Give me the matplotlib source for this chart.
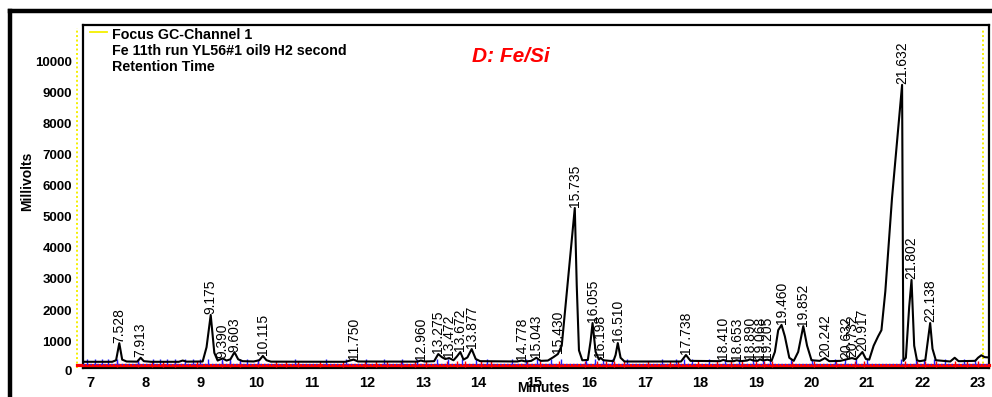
import matplotlib
matplotlib.use("Agg")
import matplotlib.pyplot as plt
from matplotlib.lines import Line2D
from matplotlib import transforms
import numpy as np

OUT_NAME = "out.png"

# detector trace, read as vertices (minutes, millivolts)
TRACE_MIN = [
    6.87, 7.40, 7.47, 7.528, 7.58, 7.66, 7.85, 7.913, 7.97, 8.10, 8.60, 8.67, 8.74,
    9.03, 9.10, 9.175, 9.24, 9.30, 9.39, 9.46, 9.53, 9.603, 9.67, 9.75, 9.95, 10.05,
    10.115, 10.18, 10.26, 11.60, 11.69, 11.75, 11.83, 12.90, 12.96, 13.03, 13.20,
    13.275, 13.34, 13.40, 13.472, 13.55, 13.61, 13.672, 13.73, 13.80, 13.877, 13.95,
    14.03, 14.70, 14.778, 14.85, 14.95, 15.043, 15.12, 15.25, 15.35, 15.43, 15.50,
    15.735, 15.77, 15.81, 15.87, 15.97, 16.02, 16.055, 16.11, 16.17, 16.198, 16.25,
    16.43, 16.47, 16.51, 16.56, 16.63, 17.65, 17.738, 17.82, 18.35, 18.41, 18.48,
    18.60, 18.653, 18.72, 18.84, 18.89, 18.95, 19.03, 19.068, 19.13, 19.205, 19.28,
    19.34, 19.40, 19.46, 19.52, 19.60, 19.68, 19.76, 19.852, 19.92, 20.00, 20.15,
    20.242, 20.32, 20.52, 20.632, 20.70, 20.732, 20.80, 20.917, 20.98, 21.04, 21.12,
    21.20, 21.26, 21.33, 21.45, 21.632, 21.655, 21.70, 21.76, 21.802, 21.85, 21.90,
    21.95, 22.05, 22.10, 22.138, 22.18, 22.24, 22.50, 22.58, 22.65, 22.95, 23.00,
    23.06, 23.12, 23.20,
]
TRACE_MV = [
    330, 330, 380, 930, 400, 340, 335, 460, 350, 330, 330, 370, 335,
    340, 800, 1840, 620, 370, 440, 370, 410, 640, 410, 350, 340, 380,
    520, 380, 335, 330, 370, 400, 340, 335, 370, 340, 350,
    580, 480, 420, 450, 380, 500, 645, 400, 470, 740, 420,
    350, 340, 370, 340, 360, 460, 360, 370, 480, 580, 850,
    5290, 2800, 700, 380, 390, 1000, 1580, 650, 400, 460, 380,
    350, 550, 935, 460, 340, 340, 550, 360, 350, 390, 350,
    350, 380, 350, 370, 410, 370, 360, 410, 370, 400, 360,
    650, 1350, 1520, 1150, 460, 360, 650, 1480, 850, 380, 360,
    450, 350, 360, 410, 440, 450, 410, 645, 420, 400, 850,
    1150, 1350, 2600, 5600, 9260, 360, 460, 2100, 2970, 850, 380,
    350, 380, 1050, 1580, 750, 380, 340, 460, 350, 360, 460,
    540, 480, 470,
]

PEAK_LABELS = [
    "7.528", "7.913", "9.175", "9.390", "9.603", "10.115", "11.750", "12.960",
    "13.275", "13.472", "13.672", "13.877", "14.778", "15.043", "15.430", "15.735",
    "16.055", "16.198", "16.510", "17.738", "18.410", "18.653", "18.890", "19.068",
    "19.205", "19.460", "19.852", "20.242", "20.632", "20.732", "20.917", "21.632",
    "21.802", "22.138",
]

# integration start/stop markers
RED_MARKS = [
    6.84, 7.48, 7.87, 8.11, 8.32, 8.53, 8.93, 9.37, 9.52, 9.70, 10.03, 10.36, 10.54,
    10.75, 11.14, 11.56, 11.95, 12.15, 12.35, 12.60, 12.85, 13.05, 13.43, 13.62,
    13.75, 14.05, 14.22, 14.88, 15.10, 15.45, 15.92, 16.13, 16.30, 16.45, 16.62,
    17.05, 17.45, 17.60, 17.95, 18.30, 18.55, 18.75, 19.00, 19.15, 19.28, 19.65,
    20.05, 20.45, 20.78, 20.95, 21.68, 21.90, 22.05, 22.25, 22.58, 22.80, 23.00,
]
BLUE_MARKS = [
    6.95, 7.09, 7.21, 7.33, 7.48, 7.87, 8.14, 8.26, 8.38, 8.53, 8.71, 8.86, 8.98,
    9.13, 9.37, 9.52, 9.70, 9.82, 10.03, 10.70, 11.25, 11.62, 11.98, 12.30, 12.62,
    12.90, 13.25, 13.45, 13.70, 13.95, 14.15, 14.60, 14.85, 15.05, 15.30, 15.48,
    15.93, 16.10, 16.25, 16.40, 16.68, 17.30, 17.55, 17.70, 17.85, 18.15, 18.45,
    18.70, 18.95, 19.12, 19.25, 19.63, 20.00, 20.42, 20.60, 20.80, 21.00, 21.62,
    21.88, 22.02, 22.20, 22.40, 22.75, 22.95,
]

X_TICKS = list(range(7, 24))
Y_TICKS = list(range(1000, 11000, 1000))

FONT = "Liberation Sans"


def draw_frame(fig):
    lw = 3.2
    fig.add_artist(Line2D([0.0105, 0.0105], [0.0, 0.972], transform=fig.transFigure,
                          color="black", linewidth=lw, solid_capstyle="projecting"))
    fig.add_artist(Line2D([0.0105, 1.0], [0.972, 0.972], transform=fig.transFigure,
                          color="black", linewidth=lw, solid_capstyle="projecting"))


def draw_trace(ax):
    t = np.asarray(TRACE_MIN)
    mv = np.asarray(TRACE_MV)

    # baselines drawn under the trace, but over the bottom spine
    ax.plot([6.76, 23.2], [225, 225], color="#ff0000", linewidth=2.3, clip_on=False, zorder=3)
    ax.axhline(275, color="#2020ff", linewidth=1.0, linestyle=(0, (1, 1.5)), zorder=3)
    ax.vlines(RED_MARKS, 150, 360, color="#ff0000", linewidth=1.0, zorder=3)
    ax.vlines(BLUE_MARKS, 250, 430, color="#2020ff", linewidth=1.0, zorder=3)

    ax.plot(t, mv, color="black", linewidth=1.5, zorder=4)

    for lbl in PEAK_LABELS:
        rt = float(lbl)
        top = np.interp(rt, t, mv)
        ax.text(rt, top + 20, lbl, rotation=90, ha="center", va="bottom",
                fontsize=10, family=FONT, color="black", zorder=5)

    # yellow range markers
    ax.plot([6.766, 6.766], [130, 11100], color="#f5f000", linewidth=1.4,
            linestyle=(0, (1, 1.3)), clip_on=False, zorder=1)
    ax.plot([23.09, 23.09], [130, 11100], color="#f5f000", linewidth=1.4,
            linestyle=(0, (1, 1.3)), zorder=1)


def style_axes(ax):
    ax.set_xlim(6.874, 23.198)
    ax.set_ylim(130, 11190)
    ax.set_xticks(X_TICKS)
    ax.set_yticks(Y_TICKS)
    ax.set_xticklabels([str(v) for v in X_TICKS])
    ax.set_yticklabels([str(v) for v in Y_TICKS])
    ax.tick_params(axis="both", length=0)
    ax.tick_params(axis="x", pad=6, labelsize=10.5)
    ax.tick_params(axis="y", pad=8, labelsize=9.5)
    for lab in ax.get_xticklabels() + ax.get_yticklabels():
        lab.set_fontweight("bold")
        lab.set_family(FONT)
    for sp in ax.spines.values():
        sp.set_linewidth(1.6)
        sp.set_zorder(2)

    # zero sits just below the visible window
    trans = transforms.blended_transform_factory(ax.transAxes, ax.transData)
    ax.text(-0.0125, 0, "0", transform=trans, ha="right", va="center",
            fontsize=9.5, fontweight="bold", family=FONT, clip_on=False)


def draw_header(fig):
    fig.add_artist(Line2D([90 / 992, 107 / 992], [1 - 32 / 397, 1 - 32 / 397],
                          transform=fig.transFigure, color="#f5f000", linewidth=1.3))
    lines = ["Focus GC-Channel 1", "Fe 11th run YL56#1 oil9 H2 second", "Retention Time"]
    for i, s in enumerate(lines):
        fig.text(112 / 992, 1 - (35 + i * 16) / 397, s, ha="left", va="center",
                 fontsize=10.3, fontweight="bold", family=FONT)
    fig.text(511 / 992, 1 - 57 / 397, "D: Fe/Si", ha="center", va="center",
             fontsize=15, fontweight="bold", style="italic", family=FONT, color="#ff0000")
    fig.text(27 / 992, 1 - 181 / 397, "Millivolts", rotation=90, ha="center", va="center",
             fontsize=10, fontweight="bold", family=FONT)
    fig.text(543 / 992, 1 - 388 / 397, "Minutes", ha="center", va="center",
             fontsize=10, fontweight="bold", family=FONT)


def main():
    fig = plt.figure(figsize=(9.92, 3.97), dpi=100)
    ax = fig.add_axes([83 / 992, 1 - 368 / 397, (989 - 83) / 992, (368 - 25) / 397])
    draw_frame(fig)
    draw_trace(ax)
    style_axes(ax)
    draw_header(fig)
    fig.savefig(OUT_NAME, dpi=100)


if __name__ == "__main__":
    main()
